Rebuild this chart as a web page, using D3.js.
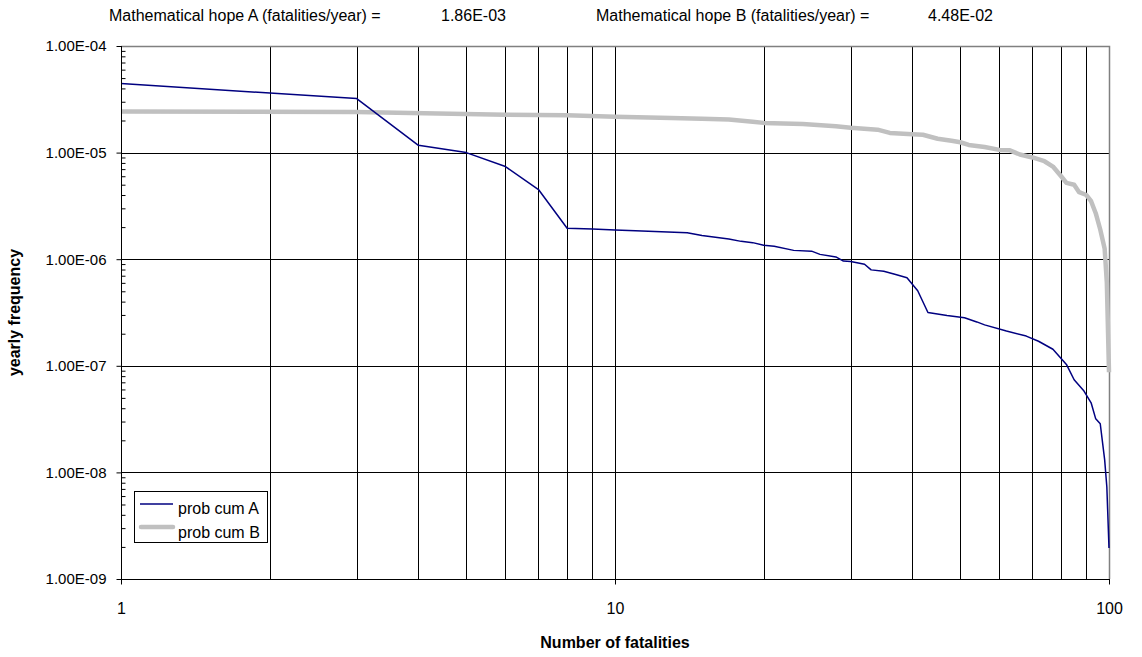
<!DOCTYPE html>
<html>
<head>
<meta charset="utf-8">
<script src="https://cdn.jsdelivr.net/npm/d3@7"></script>
<style>
  html, body { margin: 0; padding: 0; background: #fff; }
  svg { display: block; font-family: "Liberation Sans", Arial, sans-serif; }
</style>
</head>
<body>
<svg id="chart" width="1142" height="657"></svg>
<script>
// ---- data ----
const fatalitiesA = [1,3,4,5,6,7,8,9,10,11,14,15,17,18,19,20,21,23,25,26,28,29,30,32,33,35,37,39,41,43,47,51,54,56,62,68,72,77,82,85,89,92,94,96,98,99,100];
const probCumA = [4.44e-5,3.21e-5,1.17e-5,1.0e-5,7.4e-6,4.5e-6,1.95e-6,1.92e-6,1.88e-6,1.85e-6,1.77e-6,1.67e-6,1.55e-6,1.47e-6,1.43e-6,1.35e-6,1.32e-6,1.21e-6,1.19e-6,1.11e-6,1.05e-6,9.6e-7,9.5e-7,8.97e-7,7.94e-7,7.71e-7,7.2e-7,6.7e-7,5.06e-7,3.16e-7,2.96e-7,2.82e-7,2.58e-7,2.42e-7,2.12e-7,1.9e-7,1.7e-7,1.43e-7,1.03e-7,7.4e-8,5.8e-8,4.5e-8,3.18e-8,2.86e-8,1.31e-8,7.3e-9,1.95e-9];

const fatalitiesB = [1,3,6,8,10,13,15,17,19,20,24,28,30,34,36,40,42,45,48,50,52,56,60,63,66,70,74,77,80,82,85,87,90,92,94,96,98,99,100];
const probCumB = [2.43e-5,2.40e-5,2.27e-5,2.24e-5,2.17e-5,2.11e-5,2.08e-5,2.04e-5,1.95e-5,1.9e-5,1.85e-5,1.77e-5,1.71e-5,1.64e-5,1.53e-5,1.49e-5,1.47e-5,1.35e-5,1.29e-5,1.25e-5,1.18e-5,1.13e-5,1.06e-5,1.05e-5,9.6e-6,9.0e-6,8.3e-6,7.4e-6,6.0e-6,5.2e-6,5.0e-6,4.25e-6,4.0e-6,3.5e-6,2.7e-6,1.9e-6,1.25e-6,6.0e-7,8.7e-8];

const yTickValues = [1e-4,1e-5,1e-6,1e-7,1e-8,1e-9];
const xTickValues = [1,10,100];
const seriesNames = ["prob cum A","prob cum B"];
const hopeLabels = ["Mathematical hope A (fatalities/year) =","Mathematical hope B (fatalities/year) ="];
const hopeValues = ["1.86E-03","4.48E-02"];
const xTitle = "Number of fatalities";
const yTitle = "yearly frequency";

// ---- layout ----
const L = 121, R = 1109, T = 46, B = 579;
const FS = 16;
const svg = d3.select("#chart");
const x = d3.scaleLog().domain([1,100]).range([L,R]);
const y = d3.scaleLog().domain([1e-9,1e-4]).range([B,T]);

function fmtE(v){
  const s = v.toExponential(2).split("e");
  const e = parseInt(s[1],10);
  const sign = e < 0 ? "-" : "+";
  const a = Math.abs(e);
  return s[0] + "E" + sign + (a < 10 ? "0" + a : a);
}

const xMinor = [];
for (let d = 1; d <= 10; d *= 10) for (let k = 2; k <= 9; k++) xMinor.push(k*d);
const yMinor = [];
for (let e = -9; e < -4; e++) for (let k = 2; k <= 9; k++) yMinor.push(k*Math.pow(10,e));

const g = svg.append("g");

// vertical grid lines
g.append("g").selectAll("line").data(xMinor.concat([10]))
  .join("line")
  .attr("x1", d => Math.round(x(d)) + 0.5).attr("x2", d => Math.round(x(d)) + 0.5)
  .attr("y1", T).attr("y2", B)
  .attr("stroke", "#000").attr("stroke-width", 1);

// horizontal grid lines
g.append("g").selectAll("line").data(yTickValues.filter(v => v > 1e-9 && v < 1e-4))
  .join("line")
  .attr("x1", L).attr("x2", R)
  .attr("y1", d => Math.round(y(d)) + 0.5).attr("y2", d => Math.round(y(d)) + 0.5)
  .attr("stroke", "#000").attr("stroke-width", 1);

// plot border top/right (gray)
g.append("path")
  .attr("d", `M${L},${T+0.5}H${R+0.5}V${B}`)
  .attr("fill", "none").attr("stroke", "#808080").attr("stroke-width", 1.5);

// lines
const line = d3.line().x(d => x(d[0])).y(d => y(d[1]));
const dataA = fatalitiesA.map((f,i) => [f, probCumA[i]]);
const dataB = fatalitiesB.map((f,i) => [f, probCumB[i]]);

g.append("path").datum(dataB).attr("d", line)
  .attr("fill","none").attr("stroke","#c0c0c0").attr("stroke-width",4.5)
  .attr("stroke-linejoin","round");
g.append("path").datum(dataA).attr("d", line)
  .attr("fill","none").attr("stroke","#000080").attr("stroke-width",1.5)
  .attr("stroke-linejoin","round");

// y axis
const yAxis = g.append("g").attr("transform", `translate(${L+0.5},0)`)
  .call(d3.axisLeft(y).tickValues(yTickValues).tickFormat(fmtE).tickSize(5).tickPadding(10));
yAxis.select(".domain").attr("stroke","#000").attr("d", `M0,${T}V${B+0.5}`);
yAxis.selectAll("text").attr("font-size", 15).attr("fill","#000")
  .attr("font-family", "Liberation Sans, Arial, sans-serif");
yAxis.selectAll(".tick line").attr("stroke","#000");
g.append("g").attr("transform", `translate(${L+0.5},0)`)
  .call(d3.axisRight(y).tickValues(yMinor).tickFormat("").tickSize(4))
  .call(a => a.select(".domain").remove())
  .selectAll(".tick line").attr("stroke","#000");

// x axis
const xAxis = g.append("g").attr("transform", `translate(0,${B+0.5})`)
  .call(d3.axisBottom(x).tickValues(xTickValues).tickFormat(d3.format("d")).tickSize(5).tickPadding(18));
xAxis.select(".domain").attr("stroke","#000").attr("d", `M${L},0H${R+1}`);
xAxis.selectAll("text").attr("font-size", FS).attr("fill","#000")
  .attr("font-family", "Liberation Sans, Arial, sans-serif");
xAxis.selectAll(".tick line").attr("stroke","#000");

// axis titles
svg.append("text").attr("x", (L+R)/2).attr("y", 648).attr("text-anchor","middle")
  .attr("font-size", FS).attr("font-weight","bold").text(xTitle);
svg.append("text").attr("transform", `translate(20,${(T+B)/2}) rotate(-90)`)
  .attr("text-anchor","middle").attr("font-size", FS).attr("font-weight","bold").text(yTitle);

// header texts
const hopeX = [109, 596], valX = [441, 928];
hopeLabels.forEach((t,i) => {
  svg.append("text").attr("x", hopeX[i]).attr("y", 21).attr("font-size", FS).text(t);
  svg.append("text").attr("x", valX[i]).attr("y", 21).attr("font-size", FS).text(hopeValues[i]);
});

// legend
const lg = svg.append("g");
lg.append("rect").attr("x", 134.5).attr("y", 491.5).attr("width", 133).attr("height", 51)
  .attr("fill","#fff").attr("stroke","#000").attr("stroke-width",1);
lg.append("line").attr("x1",140).attr("x2",173).attr("y1",504).attr("y2",504)
  .attr("stroke","#000080").attr("stroke-width",1.5);
lg.append("line").attr("x1",141).attr("x2",173).attr("y1",527).attr("y2",527)
  .attr("stroke","#c0c0c0").attr("stroke-width",4.5).attr("stroke-linecap","round");
lg.append("text").attr("x",178).attr("y",514).attr("font-size",FS).text(seriesNames[0]);
lg.append("text").attr("x",178).attr("y",538).attr("font-size",FS).text(seriesNames[1]);
</script>
</body>
</html>
